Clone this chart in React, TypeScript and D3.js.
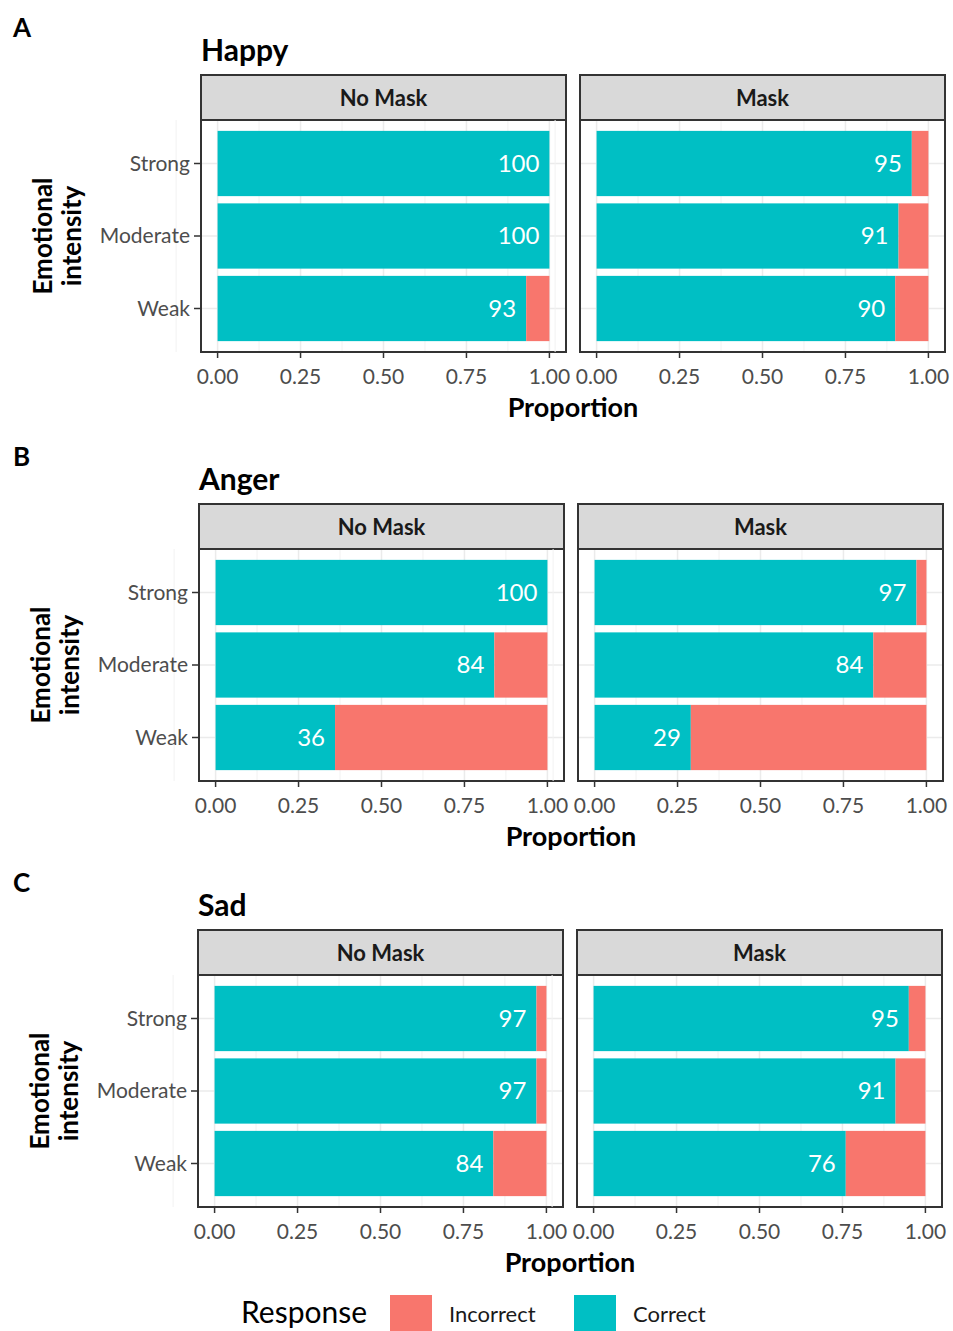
import React from "react";
import * as d3 from "d3";

// chart data
const emotions = ["Happy", "Anger", "Sad"];
const panelLetters = ["A", "B", "C"];
const maskConditions = ["No Mask", "Mask"];
const intensities = ["Strong", "Moderate", "Weak"];
// percent correct, [mask condition][intensity]
const happyCorrect = [
  [100, 100, 93],
  [95, 91, 90],
];
const angerCorrect = [
  [100, 84, 36],
  [97, 84, 29],
];
const sadCorrect = [
  [97, 97, 84],
  [95, 91, 76],
];
const correctByEmotion = [happyCorrect, angerCorrect, sadCorrect];
const xTicks = [0, 0.25, 0.5, 0.75, 1];
const responseLevels = ["Incorrect", "Correct"];

const W = 953;
const H = 1331;
const FONT = "Lato, 'Open Sans', sans-serif";
const colors = { Incorrect: "#F8766D", Correct: "#00BFC4" };

// layout per row
const stripTops = [75, 504, 930];
const panelLefts = [201, 199, 198];
const panelW = 365;
const panelGap = 14;
const stripH = 45;
const plotH = 232;

const Row = ({ idx }: { idx: number }) => {
  const top = stripTops[idx];
  const left = panelLefts[idx];
  const plotTop = top + stripH;
  const u = plotH / 3.2;
  const y = d3
    .scaleBand<string>()
    .domain(intensities)
    .range([plotTop + 0.1 * u, plotTop + 3.1 * u])
    .paddingInner(0.1)
    .paddingOuter(0.05);
  const data = correctByEmotion[idx];
  const centerX = left + panelW + panelGap / 2;

  return (
    <g>
      <text x={13} y={top - 38} fontSize={26} fontWeight={700} fill="#000">
        {panelLetters[idx]}
      </text>
      <text x={left} y={top - 14} fontSize={30} fontWeight={700} fill="#000">
        {emotions[idx]}
      </text>
      {maskConditions.map((m, mi) => {
        const px = left + mi * (panelW + panelGap);
        const x = d3
          .scaleLinear()
          .domain([-0.05, 1.05])
          .range([px, px + panelW]);
        const minor = d3.range(-0.125, 1.126, 0.25);
        return (
          <g key={m}>
            {/* strip */}
            <rect x={px} y={top} width={panelW} height={stripH} fill="#D9D9D9" stroke="#333" strokeWidth={2} />
            <text x={px + panelW / 2} y={top + stripH / 2 + 8} textAnchor="middle" fontSize={22} fontWeight={700} fill="#1A1A1A">
              {m}
            </text>
            {/* panel background + grid */}
            <rect x={px} y={plotTop} width={panelW} height={plotH} fill="#fff" />
            {minor.map((t) => (
              <line key={"mn" + t} x1={x(t)} x2={x(t)} y1={plotTop} y2={plotTop + plotH} stroke="#F2F2F2" strokeWidth={1} />
            ))}
            {xTicks.map((t) => (
              <line key={"mj" + t} x1={x(t)} x2={x(t)} y1={plotTop} y2={plotTop + plotH} stroke="#EBEBEB" strokeWidth={1.5} />
            ))}
            {intensities.map((c) => (
              <line key={"hg" + c} x1={px} x2={px + panelW} y1={y(c)! + y.bandwidth() / 2} y2={y(c)! + y.bandwidth() / 2} stroke="#EBEBEB" strokeWidth={1.5} />
            ))}
            {/* bars */}
            {intensities.map((c, ci) => {
              const p = data[mi][ci] / 100;
              const by = y(c)!;
              return (
                <g key={c}>
                  <rect x={x(0)} y={by} width={x(p) - x(0)} height={y.bandwidth()} fill={colors.Correct} />
                  <rect x={x(p)} y={by} width={x(1) - x(p)} height={y.bandwidth()} fill={colors.Incorrect} />
                  <text x={x(p) - 10} y={by + y.bandwidth() / 2 + 8} textAnchor="end" fontSize={24} fill="#fff">
                    {data[mi][ci]}
                  </text>
                </g>
              );
            })}
            <rect x={px} y={plotTop} width={panelW} height={plotH} fill="none" stroke="#333" strokeWidth={2} />
            {/* x axis */}
            {xTicks.map((t) => (
              <g key={"xt" + t}>
                <line x1={x(t)} x2={x(t)} y1={plotTop + plotH} y2={plotTop + plotH + 6} stroke="#333" strokeWidth={1.5} />
                <text x={x(t)} y={plotTop + plotH + 32} textAnchor="middle" fontSize={21} fill="#4D4D4D">
                  {t.toFixed(2)}
                </text>
              </g>
            ))}
          </g>
        );
      })}
      {/* y axis */}
      {intensities.map((c) => {
        const cy = y(c)! + y.bandwidth() / 2;
        return (
          <g key={"yt" + c}>
            <line x1={left - 7} x2={left} y1={cy} y2={cy} stroke="#333" strokeWidth={1.5} />
            <text x={left - 11} y={cy + 7} textAnchor="end" fontSize={21} fill="#4D4D4D">
              {c}
            </text>
          </g>
        );
      })}
      <text x={centerX} y={plotTop + plotH + 65} textAnchor="middle" fontSize={27} fontWeight={700} fill="#000">
        Proportion
      </text>
      <g transform={`translate(${left - 149},${plotTop + plotH / 2}) rotate(-90)`}>
        <text x={0} y={0} textAnchor="middle" fontSize={26} fontWeight={700} fill="#000">
          Emotional
        </text>
        <text x={0} y={29} textAnchor="middle" fontSize={26} fontWeight={700} fill="#000">
          intensity
        </text>
      </g>
    </g>
  );
};

const App = () => {
  const legendY = 1295;
  const legendX = [390, 574];
  return (
    <svg
      width={W}
      height={H}
      style={{ display: "block", position: "absolute", left: 0, top: 0, fontFamily: FONT, background: "#fff" }}
    >
      {emotions.map((e, i) => (
        <Row key={e} idx={i} />
      ))}
      <text x={241} y={1323} fontSize={30} fill="#000">
        Response
      </text>
      {responseLevels.map((r, i) => (
        <g key={r}>
          <rect x={legendX[i]} y={legendY} width={42} height={36} fill={colors[r as "Incorrect" | "Correct"]} />
          <text x={legendX[i] + 59} y={1322} fontSize={22} fill="#1A1A1A">
            {r}
          </text>
        </g>
      ))}
    </svg>
  );
};

export default App;
